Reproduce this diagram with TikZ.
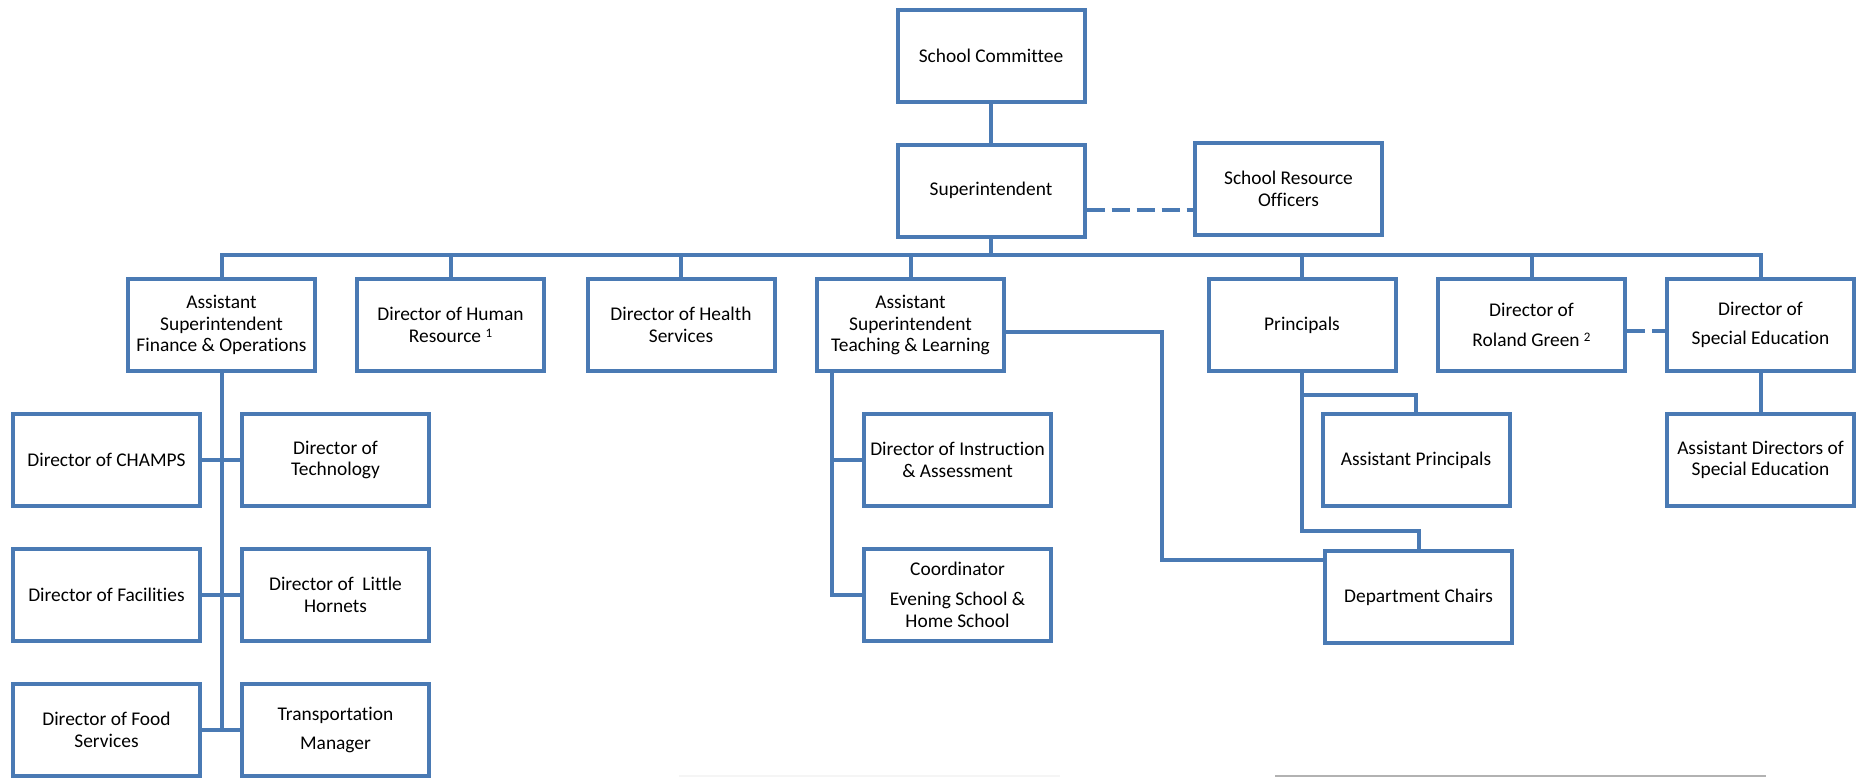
\documentclass[tikz,border=0pt]{standalone}
\usepackage{fontspec}
\setmainfont{Carlito}[Ligatures={NoCommon}]
\definecolor{orgblue}{RGB}{74,122,180}
\begin{document}
\begin{tikzpicture}[x=1pt,y=-1pt,
  box/.style={draw=orgblue,line width=4pt,fill=white,minimum width=187pt,minimum height=92pt,
    align=center,inner sep=2pt,font=\fontsize{19.4}{21.7}\selectfont},
  link/.style={draw=orgblue,line width=4pt},
  dashlink/.style={draw=orgblue,line width=4pt,dash pattern=on 18pt off 7pt}]
\fill[white] (0,0) rectangle (1859,777);
\clip (0,0) rectangle (1859,777);
% top
\node[box] (sc)  at (991,55.5)   {School Committee};
\node[box] (sup) at (991,190.5)  {Superintendent};
\node[box] (sro) at (1288.5,188.5) {School Resource\\Officers};
% row 2
\node[box] (asfo) at (221.5,325) {Assistant\\Superintendent\\Finance \& Operations};
\node[box] (dhr)  at (450.5,325) {Director of Human\\Resource {\fontsize{13}{13}\selectfont\raisebox{5pt}{1}}};
\node[box] (dhs)  at (681,325)   {Director of Health\\Services};
\node[box] (astl) at (910.5,325) {Assistant\\Superintendent\\Teaching \& Learning};
\node[box] (prin) at (1302,325)  {Principals};
\node[box] (rg)   at (1531.5,325) {Director of\\[8pt]Roland Green {\fontsize{13}{13}\selectfont\raisebox{5pt}{2}}};
\node[box] (dse)  at (1760.5,325) {Director of\\[8pt]Special Education};
% row 3
\node[box] (champs) at (106.5,460) {Director of CHAMPS};
\node[box] (tech)   at (335.5,460) {Director of\\Technology};
\node[box] (dia)    at (957.5,460) {Director of Instruction\\\& Assessment};
\node[box] (ap)     at (1416,460)  {Assistant Principals};
\node[box] (asdse)  at (1760.5,460) {Assistant Directors of\\Special Education};
% row 4
\node[box] (fac)   at (106.5,595) {Director of Facilities};
\node[box] (lh)    at (335.5,595) {Director of\ \ Little\\Hornets};
\node[box] (coord) at (957.5,595) {Coordinator\\[8pt]Evening School \&\\Home School};
\node[box] (dc)    at (1418.5,597) {Department Chairs};
% row 5
\node[box] (food)  at (106.5,730) {Director of Food\\Services};
\node[box] (trans) at (335.5,730) {Transportation\\[8pt]Manager};
% connectors
\coordinate (bus) at (0,255);
\draw[link] (sc) -- (sup);
\draw[link] (sup.south) -- (sup.south |- bus);
\draw[link] (asfo.north) -- (asfo.north |- bus) -- (dse.north |- bus) -- (dse.north);
\foreach \n in {dhr,dhs,astl,prin,rg}{\draw[link] (\n.north) -- (\n.north |- bus);}
\draw[dashlink] ([yshift=-19.5pt]sup.east) -- ([yshift=-21.5pt]sro.west);
\draw[dashlink] ([yshift=-6pt]rg.east) -- ([yshift=-6pt]dse.west);
% finance & operations
\draw[link] (asfo.south) -- (asfo.south |- food.east);
\draw[link] (champs.east) -- (tech.west);
\draw[link] (fac.east) -- (lh.west);
\draw[link] (food.east) -- (trans.west);
% teaching & learning
\coordinate (tl) at ([xshift=17pt]astl.south west);
\draw[link] (tl) |- (coord.west);
\draw[link] (tl |- dia.west) -- (dia.west);
\coordinate (k1) at (1162,560);
\draw[link] ([yshift=-6.5pt]astl.east) -| (k1) -- (k1 -| dc.west);
% principals
\draw[link] (prin.south) -- ++(0,158) -| (dc.north);
\draw[link] (prin.south) -- ++(0,22) -| (ap.north);
% special education
\draw[link] (dse) -- (asdse);
% faint lines at bottom edge
\draw[gray!8,line width=1.5pt] (679,776) -- (1060,776);
\draw[gray!60,line width=1.5pt] (1275,776) -- (1766,776);
\end{tikzpicture}
\end{document}
